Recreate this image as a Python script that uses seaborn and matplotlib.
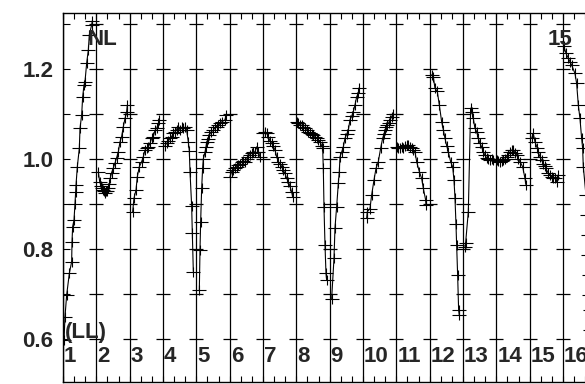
import numpy as np
import pandas as pd
import seaborn as sns
import matplotlib.pyplot as plt
from matplotlib.path import Path

# valores lidos por ciclo (x em ciclos, y valor relativo)
c01_x = [0.03, 0.06, 0.11, 0.19, 0.26, 0.27, 0.29, 0.33, 0.36, 0.38, 0.39, 0.43, 0.49, 0.51, 0.56, 0.59, 0.63, 0.66, 0.71, 0.76, 0.79, 0.86, 0.88]
c01_y = [0.598, 0.65, 0.698, 0.746, 0.772, 0.816, 0.85, 0.864, 0.901, 0.927, 0.942, 0.983, 1.024, 1.068, 1.098, 1.138, 1.164, 1.172, 1.213, 1.242, 1.276, 1.298, 1.307]
c02_x = [1.06, 1.10, 1.14, 1.18, 1.21, 1.24, 1.27, 1.30, 1.33, 1.36, 1.39, 1.42, 1.46, 1.51, 1.56, 1.61, 1.66, 1.71, 1.76, 1.81, 1.86, 1.91, 1.93]
c02_y = [0.972, 0.95, 0.94, 0.935, 0.932, 0.93, 0.925, 0.928, 0.93, 0.935, 0.945, 0.958, 0.97, 0.98, 0.991, 1.003, 1.016, 1.038, 1.05, 1.072, 1.09, 1.105, 1.12]
c03_x = [2.09, 2.13, 2.19, 2.23, 2.29, 2.36, 2.41, 2.46, 2.51, 2.56, 2.61, 2.66, 2.71, 2.76, 2.81, 2.86, 2.89]
c03_y = [0.883, 0.913, 0.931, 0.961, 0.983, 0.994, 1.005, 1.02, 1.024, 1.027, 1.035, 1.046, 1.05, 1.064, 1.068, 1.079, 1.087]
c04_x = [3.06, 3.11, 3.16, 3.21, 3.26, 3.31, 3.36, 3.41, 3.46, 3.51, 3.56, 3.61, 3.66, 3.71, 3.76, 3.79, 3.81, 3.86, 3.88, 3.91]
c04_y = [1.03, 1.035, 1.04, 1.046, 1.05, 1.057, 1.06, 1.065, 1.072, 1.065, 1.07, 1.068, 1.07, 1.064, 1.038, 1.018, 0.972, 0.896, 0.835, 0.75]
c05_x = [4.09, 4.11, 4.13, 4.16, 4.19, 4.21, 4.26, 4.29, 4.31, 4.36, 4.39, 4.44, 4.51, 4.56, 4.61, 4.66, 4.71, 4.77, 4.86, 4.89]
c05_y = [0.709, 0.798, 0.861, 0.935, 0.981, 1.0, 1.015, 1.027, 1.038, 1.045, 1.053, 1.06, 1.064, 1.07, 1.072, 1.075, 1.079, 1.083, 1.087, 1.098]
c06_x = [5.01, 5.06, 5.11, 5.16, 5.21, 5.26, 5.31, 5.36, 5.41, 5.46, 5.51, 5.56, 5.61, 5.66, 5.71, 5.76, 5.81, 5.86, 5.91]
c06_y = [0.961, 0.972, 0.975, 0.979, 0.983, 0.987, 0.99, 0.994, 0.996, 0.994, 1.0, 1.005, 1.01, 1.013, 1.015, 1.016, 1.027, 1.016, 1.005]
c07_x = [6.01, 6.06, 6.11, 6.16, 6.21, 6.26, 6.31, 6.36, 6.41, 6.46, 6.51, 6.56, 6.61, 6.66, 6.71, 6.76, 6.81, 6.86, 6.89]
c07_y = [1.057, 1.06, 1.057, 1.05, 1.04, 1.035, 1.028, 1.02, 1.005, 0.994, 0.99, 0.983, 0.975, 0.968, 0.957, 0.95, 0.939, 0.927, 0.916]
c08_x = [7.01, 7.06, 7.11, 7.16, 7.21, 7.26, 7.31, 7.36, 7.41, 7.46, 7.51, 7.56, 7.61, 7.66, 7.71, 7.76, 7.79, 7.81, 7.83, 7.86, 7.89, 7.91]
c08_y = [1.083, 1.08, 1.076, 1.075, 1.072, 1.068, 1.064, 1.06, 1.057, 1.055, 1.053, 1.05, 1.046, 1.042, 1.038, 1.03, 1.024, 0.979, 0.894, 0.81, 0.746, 0.731]
c09_x = [8.06, 8.13, 8.16, 8.21, 8.26, 8.29, 8.31, 8.36, 8.41, 8.46, 8.51, 8.56, 8.61, 8.66, 8.71, 8.76, 8.81, 8.86, 8.88]
c09_y = [0.69, 0.779, 0.847, 0.894, 0.946, 0.972, 1.005, 1.015, 1.027, 1.046, 1.055, 1.064, 1.087, 1.095, 1.105, 1.12, 1.138, 1.146, 1.158]
c10_x = [9.11, 9.13, 9.21, 9.26, 9.33, 9.39, 9.46, 9.53, 9.59, 9.63, 9.66, 9.69, 9.73, 9.77, 9.81, 9.86, 9.91]
c10_y = [0.868, 0.883, 0.89, 0.92, 0.953, 0.979, 0.994, 1.024, 1.046, 1.055, 1.064, 1.07, 1.076, 1.08, 1.087, 1.094, 1.101]
c11_x = [10.01, 10.06, 10.11, 10.16, 10.21, 10.26, 10.31, 10.36, 10.41, 10.46, 10.51, 10.56, 10.61, 10.69, 10.76, 10.81, 10.88, 10.89]
c11_y = [1.027, 1.025, 1.024, 1.027, 1.024, 1.028, 1.031, 1.031, 1.027, 1.024, 1.02, 1.016, 0.994, 0.972, 0.957, 0.935, 0.909, 0.898]
c12_x = [11.06, 11.11, 11.16, 11.23, 11.29, 11.36, 11.41, 11.46, 11.51, 11.56, 11.63, 11.69, 11.73, 11.76, 11.79, 11.81, 11.84, 11.87, 11.89]
c12_y = [1.187, 1.183, 1.157, 1.15, 1.12, 1.083, 1.065, 1.046, 1.03, 1.016, 0.994, 0.983, 0.953, 0.914, 0.855, 0.809, 0.742, 0.664, 0.653]
c13_x = [12.06, 12.08, 12.16, 12.23, 12.26, 12.31, 12.36, 12.41, 12.46, 12.51, 12.56, 12.61, 12.66, 12.71, 12.76, 12.81, 12.86, 12.91]
c13_y = [0.805, 0.814, 0.883, 1.113, 1.105, 1.09, 1.068, 1.061, 1.046, 1.035, 1.027, 1.015, 1.009, 1.002, 1.001, 0.998, 1.001, 0.997]
c14_x = [13.01, 13.06, 13.11, 13.16, 13.21, 13.26, 13.31, 13.36, 13.41, 13.46, 13.51, 13.56, 13.61, 13.66, 13.71, 13.79, 13.86, 13.89]
c14_y = [0.998, 0.995, 0.994, 0.996, 0.998, 1.0, 1.005, 1.01, 1.016, 1.02, 1.02, 1.014, 1.009, 1.0, 0.994, 0.983, 0.957, 0.942]
c15_x = [14.06, 14.11, 14.16, 14.23, 14.26, 14.31, 14.36, 14.41, 14.46, 14.49, 14.56, 14.61, 14.66, 14.71, 14.76, 14.81, 14.84]
c15_y = [1.046, 1.057, 1.038, 1.024, 1.015, 1.005, 0.997, 0.99, 0.985, 0.979, 0.968, 0.964, 0.961, 0.958, 0.957, 0.95, 0.964]
c16_x = [15.03, 15.09, 15.16, 15.21, 15.26, 15.36, 15.41, 15.46, 15.51, 15.56, 15.59, 15.61, 15.69, 15.72, 15.74, 15.75, 15.77, 15.79, 15.80, 15.82]
c16_y = [1.25, 1.235, 1.224, 1.216, 1.209, 1.19, 1.168, 1.12, 1.09, 1.046, 1.024, 0.983, 0.92, 0.876, 0.831, 0.787, 0.742, 0.698, 0.664, 0.62]

ciclos = [(c01_x, c01_y), (c02_x, c02_y), (c03_x, c03_y), (c04_x, c04_y),
          (c05_x, c05_y), (c06_x, c06_y), (c07_x, c07_y), (c08_x, c08_y),
          (c09_x, c09_y), (c10_x, c10_y), (c11_x, c11_y), (c12_x, c12_y),
          (c13_x, c13_y), (c14_x, c14_y), (c15_x, c15_y), (c16_x, c16_y)]

rotulos_base = [str(k) for k in range(1, 17)]
y_ticks = [0.6, 0.8, 1.0, 1.2]
y_minor = [0.7, 0.9, 1.1, 1.3]

df = pd.concat(
    [pd.DataFrame({'t': x, 'v': y, 'ciclo': i + 1}) for i, (x, y) in enumerate(ciclos)],
    ignore_index=True)

sns.set_style('white')
plt.rcParams['font.family'] = ['Liberation Sans', 'DejaVu Sans']

fig = plt.figure(figsize=(5.85, 3.84), dpi=100)
# o eixo passa da borda direita, como na figura original (recortada)
ax = fig.add_axes([63 / 585, 1.7 / 384, 533.3 / 585, 369.6 / 384])

cruz = Path([(-1, 0), (1, 0), (0, -0.8), (0, 0.8)],
            [Path.MOVETO, Path.LINETO, Path.MOVETO, Path.LINETO])

# linhas verticais separando os ciclos
for k in range(17):
    ax.axvline(k, color='k', lw=0.9, zorder=1)

# tracinhos horizontais em cada divisoria
xs = np.repeat(np.arange(1, 17), 8)
ys = np.tile(np.round(np.arange(0.6, 1.31, 0.1), 1), 16)
ax.plot(xs, ys, ls='none', marker='_', ms=9.5, mew=0.9, color='k', zorder=1)

sns.lineplot(data=df, x='t', y='v', units='ciclo', estimator=None,
             color='k', lw=0.8, marker=cruz, ms=9.5, mec='k', mfc='none',
             mew=0.8, ax=ax, zorder=2)

ax.set_xlim(0, 16)
ax.set_ylim(0.504, 1.325)
ax.set_xlabel('')
ax.set_ylabel('')

ax.set_xticks(np.arange(0, 17))
ax.set_xticks(np.arange(0, 16.01, 1 / 3), minor=True)
ax.tick_params(axis='x', which='both', direction='in', top=True, bottom=True,
               length=4.5, width=0.8, labelbottom=False, color='k')
ax.set_yticks(y_ticks)
ax.set_yticks(y_minor, minor=True)
ax.set_yticklabels(['%.1f' % v for v in y_ticks])
ax.tick_params(axis='y', which='both', direction='in', left=True, right=False,
               length=5, width=0.8, pad=7, labelsize=16, color='k')
for lab in ax.get_yticklabels():
    lab.set_fontweight('bold')

for s in ax.spines.values():
    s.set_color('k')
    s.set_linewidth(1.0)

fonte = dict(fontsize=16, fontweight='bold', ha='left', va='baseline')
ax.text(0.745, 1.253, 'NL', **fonte)
ax.text(14.53, 1.253, '15', **fonte)
ax.text(0.05, 0.603, '(LL)', **fonte)
for k, rot in enumerate(rotulos_base):
    ax.text(k + 0.03, 0.5496, rot, **fonte)

fig.savefig('out.png', dpi=100)
